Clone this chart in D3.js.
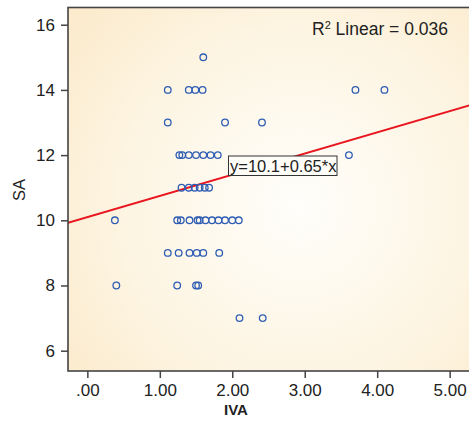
<!DOCTYPE html>
<html><head><meta charset="utf-8">
<script src="https://cdn.jsdelivr.net/npm/d3@7"></script>
<style>
html,body{margin:0;padding:0;background:#fff;}
svg{display:block;font-family:"Liberation Sans",Arial,sans-serif;}
</style></head>
<body>
<svg id="chart" width="469" height="423"></svg>
<script>
// ---- data ----
const ivaValues = [
  1.60,
  1.11, 1.40, 1.49, 1.59, 3.70, 4.10,
  1.11, 1.90, 2.41,
  1.27, 1.31, 1.40, 1.50, 1.60, 1.70, 1.80, 3.61,
  1.30, 1.40, 1.48, 1.55, 1.62, 1.68,
  0.38, 1.24, 1.29, 1.41, 1.52, 1.55, 1.63, 1.72, 1.81, 1.90, 2.00, 2.09,
  1.11, 1.26, 1.41, 1.51, 1.60, 1.82,
  0.40, 1.24, 1.50, 1.53,
  2.10, 2.42
];
const saValues = [
  15,
  14, 14, 14, 14, 14, 14,
  13, 13, 13,
  12, 12, 12, 12, 12, 12, 12, 12,
  11, 11, 11, 11, 11, 11,
  10, 10, 10, 10, 10, 10, 10, 10, 10, 10, 10, 10,
  9, 9, 9, 9, 9, 9,
  8, 8, 8, 8,
  7, 7
];
const xTicks = [0, 1, 2, 3, 4, 5];
const xTickLabels = [".00", "1.00", "2.00", "3.00", "4.00", "5.00"];
const yTicks = [6, 8, 10, 12, 14, 16];
const yTickLabels = ["6", "8", "10", "12", "14", "16"];
const fitIntercept = 10.1;
const fitSlope = 0.65;
const rSquared = 0.036;
const xTitle = "IVA";
const yTitle = "SA";

// ---- layout ----
const svg = d3.select("#chart");
const pL = 68, pT = 7.5, pR = 474, pB = 371;
const x = d3.scaleLinear().domain([-0.267, 5.336]).range([pL, pR]);
const y = d3.scaleLinear().domain([5.377, 16.528]).range([pB, pT]);

const defs = svg.append("defs");
const grad = defs.append("radialGradient").attr("id", "bg")
  .attr("gradientUnits", "userSpaceOnUse")
  .attr("cx", 300).attr("cy", 205).attr("r", 340);
grad.append("stop").attr("offset", "0%").attr("stop-color", "#fffefb");
grad.append("stop").attr("offset", "50%").attr("stop-color", "#fdf5e3");
grad.append("stop").attr("offset", "100%").attr("stop-color", "#fbe7c5");
defs.append("clipPath").attr("id", "clip").append("rect")
  .attr("x", pL).attr("y", pT).attr("width", pR - pL).attr("height", pB - pT);

svg.append("rect").attr("x", pL).attr("y", pT)
  .attr("width", pR - pL).attr("height", pB - pT)
  .attr("fill", "url(#bg)");

// fit line
const plot = svg.append("g").attr("clip-path", "url(#clip)");
const xd = x.domain();
plot.append("line")
  .attr("x1", x(xd[0])).attr("y1", y(fitIntercept + fitSlope * xd[0]))
  .attr("x2", x(xd[1])).attr("y2", y(fitIntercept + fitSlope * xd[1]))
  .attr("stroke", "#e8161e").attr("stroke-width", 2);

// points
plot.selectAll("circle.pt").data(ivaValues.map((v, i) => [v, saValues[i]]))
  .enter().append("circle").attr("class", "pt")
  .attr("cx", d => x(d[0])).attr("cy", d => y(d[1])).attr("r", 3.3)
  .attr("fill", "none").attr("stroke", "#2f5db3").attr("stroke-width", 1.3);

// frame
svg.append("rect").attr("x", pL).attr("y", pT)
  .attr("width", pR - pL).attr("height", pB - pT)
  .attr("fill", "none").attr("stroke", "#444").attr("stroke-width", 1.6);

// axes
const yAxis = d3.axisLeft(y).tickValues(yTicks).tickSize(7).tickPadding(6)
  .tickFormat((d, i) => yTickLabels[i]);
const gy = svg.append("g").attr("transform", `translate(${pL},0)`).call(yAxis);
const xAxis = d3.axisBottom(x).tickValues(xTicks).tickSize(7).tickPadding(6)
  .tickFormat((d, i) => xTickLabels[i]);
const gx = svg.append("g").attr("transform", `translate(0,${pB})`).call(xAxis);
[gx, gy].forEach(g => {
  g.select(".domain").remove();
  g.selectAll(".tick line").attr("stroke", "#444").attr("stroke-width", 1.5);
  g.selectAll(".tick text").attr("fill", "#222")
    .style("font-size", "17px").style("font-family", '"Liberation Sans",Arial,sans-serif');
});

// axis titles
svg.append("text").attr("x", 236).attr("y", 415).attr("text-anchor", "middle")
  .style("font-size", "15px").style("font-weight", "bold").attr("fill", "#222").text(xTitle);
svg.append("text").attr("transform", "translate(25,190) rotate(-90)").attr("text-anchor", "middle")
  .style("font-size", "16.5px").attr("fill", "#222").text(yTitle);

// R² annotation
const r2 = svg.append("text").attr("x", 380).attr("y", 35).attr("text-anchor", "middle")
  .style("font-size", "17.5px").attr("fill", "#222");
r2.append("tspan").text("R");
r2.append("tspan").attr("dy", -6).style("font-size", "11px").text("2");
r2.append("tspan").attr("dy", 6).text(" Linear = " + rSquared.toFixed(3));

// equation label
const eqText = `y=${fitIntercept}+${fitSlope}*x`;
svg.append("rect").attr("x", 228.5).attr("y", 156).attr("width", 108.5).attr("height", 19.5)
  .attr("fill", "#fffdf8").attr("stroke", "#333").attr("stroke-width", 1);
svg.append("text").attr("x", 230).attr("y", 171.5)
  .style("font-size", "16.5px").attr("fill", "#222").text(eqText);
</script>
</body></html>
